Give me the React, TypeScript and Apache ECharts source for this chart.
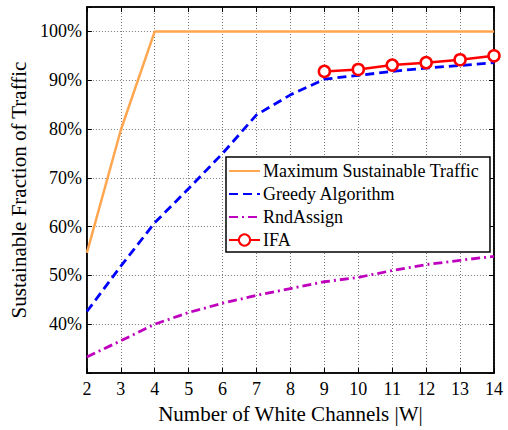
import React, { useEffect, useRef } from "react";
import * as echarts from "echarts";

const channels = [2, 3, 4, 5, 6, 7, 8, 9, 10, 11, 12, 13, 14];
const maxTraffic = [54.6, 79.8, 100, 100, 100, 100, 100, 100, 100, 100, 100, 100, 100];
const greedy = [42.6, 51.9, 60.8, 67.8, 75.0, 82.9, 87.0, 90.2, 91.0, 91.8, 92.5, 93.0, 93.6];
const rndAssign = [33.3, 36.6, 40.0, 42.4, 44.3, 45.9, 47.3, 48.7, 49.6, 51.0, 52.2, 53.1, 53.9];
const ifaChannels = [9, 10, 11, 12, 13, 14];
const ifa = [91.8, 92.2, 93.1, 93.6, 94.2, 95.0];
const yTicks = [40, 50, 60, 70, 80, 90, 100];
const seriesNames = ["Maximum Sustainable Traffic", "Greedy Algorithm", "RndAssign", "IFA"];

const FONT = '"Times New Roman", "Liberation Serif", "DejaVu Serif", serif';

export default function App() {
  const ref = useRef<HTMLDivElement>(null);
  useEffect(() => {
    if (!ref.current) return;
    const chart = echarts.init(ref.current, null, { renderer: "svg" });
    const pairs = (xs: number[], ys: number[]) => xs.map((x, i) => [x, ys[i]]);
    const gridLine = { show: true, lineStyle: { color: "#7a7a7a", type: [1, 2] as any, width: 1 } };
    chart.setOption({
      animation: false,
      backgroundColor: "#fff",
      textStyle: { fontFamily: FONT },
      grid: { left: 85, right: 14, top: 7, bottom: 57, show: true, borderColor: "#000", borderWidth: 1.5, backgroundColor: "transparent" },
      xAxis: [
        {
          type: "value", min: 2, max: 14, interval: 1,
          name: "Number of White Channels |W|", nameLocation: "middle", nameGap: 30,
          nameTextStyle: { fontFamily: FONT, fontSize: 21, color: "#000" },
          axisLine: { show: true, lineStyle: { color: "#000", width: 1.5 } },
          axisTick: { show: true, inside: true, length: 5, lineStyle: { color: "#000" } },
          axisLabel: { fontFamily: FONT, fontSize: 18, color: "#000", margin: 7 },
          splitLine: gridLine,
        },
        {
          type: "value", min: 2, max: 14, interval: 1, position: "top",
          axisLine: { show: true, lineStyle: { color: "#000", width: 1.5 } },
          axisTick: { show: true, inside: true, length: 5, lineStyle: { color: "#000" } },
          axisLabel: { show: false }, splitLine: { show: false },
        },
      ],
      yAxis: [
        {
          type: "value", min: 30, max: 105, interval: 10,
          name: "Sustainable Fraction of Traffic", nameLocation: "middle", nameGap: 51,
          nameTextStyle: { fontFamily: FONT, fontSize: 21, color: "#000" },
          axisLine: { show: true, lineStyle: { color: "#000", width: 1.5 } },
          axisTick: { show: true, inside: true, length: 5, lineStyle: { color: "#000" } },
          axisLabel: {
            fontFamily: FONT, fontSize: 18, color: "#000", margin: 5,
            formatter: (v: number) => (yTicks.indexOf(v) >= 0 ? v + "%" : ""),
          },
          splitLine: gridLine,
        },
        {
          type: "value", min: 30, max: 105, interval: 10, position: "right",
          axisLine: { show: true, lineStyle: { color: "#000", width: 1.5 } },
          axisTick: { show: true, inside: true, length: 5, lineStyle: { color: "#000" } },
          axisLabel: { show: false }, splitLine: { show: false },
        },
      ],
      legend: {
        orient: "vertical", left: 226, top: 157,
        padding: [5, 11, 3, 2], itemGap: 5, itemWidth: 31, itemHeight: 14,
        backgroundColor: "#fff", borderColor: "#000", borderWidth: 1.5,
        textStyle: { fontFamily: FONT, fontSize: 18, color: "#000", padding: [0, 0, 0, -2] },
        data: [
          { name: seriesNames[0], itemStyle: { opacity: 0 } },
          { name: seriesNames[1], itemStyle: { opacity: 0 } },
          { name: seriesNames[2], itemStyle: { opacity: 0 } },
          { name: seriesNames[3] },
        ],
      },
      series: [
        {
          name: seriesNames[0], type: "line", data: pairs(channels, maxTraffic),
          symbol: "none", lineStyle: { color: "#FFA650", width: 2.5 }, itemStyle: { color: "#FFA650" },
        },
        {
          name: seriesNames[1], type: "line", data: pairs(channels, greedy),
          symbol: "none", lineStyle: { color: "#0000FF", width: 2.8, type: [9, 5] }, itemStyle: { color: "#0000FF" },
        },
        {
          name: seriesNames[2], type: "line", data: pairs(channels, rndAssign),
          symbol: "none", lineStyle: { color: "#BF00BF", width: 2.8, type: [9, 4, 2, 4] }, itemStyle: { color: "#BF00BF" },
        },
        {
          name: seriesNames[3], type: "line", data: pairs(ifaChannels, ifa), z: 5,
          symbol: "circle", symbolSize: 11,
          lineStyle: { color: "#FF0000", width: 2.5 },
          itemStyle: { color: "#fff", borderColor: "#FF0000", borderWidth: 2.5 },
        },
      ],
    });
    return () => chart.dispose();
  }, []);
  return <div ref={ref} style={{ position: "fixed", left: 0, top: 0, width: 508, height: 430 }} />;
}
